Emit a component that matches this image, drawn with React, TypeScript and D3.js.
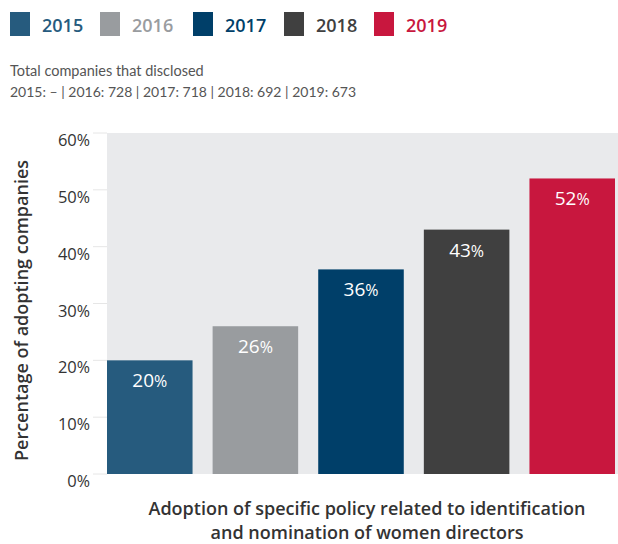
import * as d3 from 'd3';

const years = ['2015', '2016', '2017', '2018', '2019'];
const values = [20, 26, 36, 43, 52];
const colors = ['#265b7e', '#999c9f', '#003f69', '#404040', '#c8173e'];
const yTicks = [0, 10, 20, 30, 40, 50, 60];
const disclosed = ['2015: –', '2016: 728', '2017: 718', '2018: 692', '2019: 673'];

const W = 618;
const H = 544;
const font = '"Open Sans", sans-serif';

function App() {
  const x = d3.scaleBand().domain(years).range([107, 615]).paddingInner(0.19).paddingOuter(0);
  const y = d3.scaleLinear().domain([0, 60]).range([474, 133]);

  const legendX = [10, 100, 193, 284, 374];

  return (
    <svg width={W} height={H} style={{ position: 'absolute', left: 0, top: 0, display: 'block' }} fontFamily={font}>
      {/* legend */}
      {years.map((yr, i) => (
        <g key={yr}>
          <rect x={legendX[i]} y={12} width={20} height={24} fill={colors[i]} />
          <text x={legendX[i] + 32} y={32} fontSize={18} fontWeight={600} fill={colors[i]}>{yr}</text>
        </g>
      ))}

      {/* subtitle */}
      <text x={10} y={76} fontSize={14.5} fill="#555" fontFamily="Lato, sans-serif">Total companies that disclosed</text>
      <text x={10} y={97} fontSize={14} fill="#555" fontFamily="Lato, sans-serif">{disclosed.join(' | ')}</text>

      {/* plot background */}
      <rect x={107} y={y(60)} width={W - 107} height={y(0) - y(60)} fill="#e9eaec" />

      {/* ticks */}
      {yTicks.map(t => (
        <g key={t}>
          <line x1={93} x2={107} y1={y(t)} y2={y(t)} stroke="#e6e6e6" strokeWidth={1} />
          <text x={90} y={y(t) + 13} textAnchor="end" fontSize={16.5} fill="#333">
            {t}<tspan fontSize={16}>%</tspan>
          </text>
        </g>
      ))}

      {/* bars */}
      {years.map((yr, i) => (
        <g key={yr}>
          <rect x={x(yr)} y={y(values[i])} width={x.bandwidth()} height={y(0) - y(values[i])} fill={colors[i]} />
          <text x={(x(yr) as number) + x.bandwidth() / 2} y={y(values[i]) + 27} textAnchor="middle" fontSize={19} fill="#fff">
            {values[i]}<tspan fontSize={16}>%</tspan>
          </text>
        </g>
      ))}

      {/* y axis title */}
      <text transform={`translate(28,${(y(0) + y(60)) / 2 + 7}) rotate(-90)`} textAnchor="middle" fontSize={18} fontWeight={600} fill="#333">
        Percentage of adopting companies
      </text>

      {/* x axis title */}
      <text x={367} y={515} textAnchor="middle" fontSize={18} fontWeight={600} fill="#333">
        Adoption of specific policy related to identification
      </text>
      <text x={367} y={539} textAnchor="middle" fontSize={18} fontWeight={600} fill="#333">
        and nomination of women directors
      </text>
    </svg>
  );
}

export default App;
